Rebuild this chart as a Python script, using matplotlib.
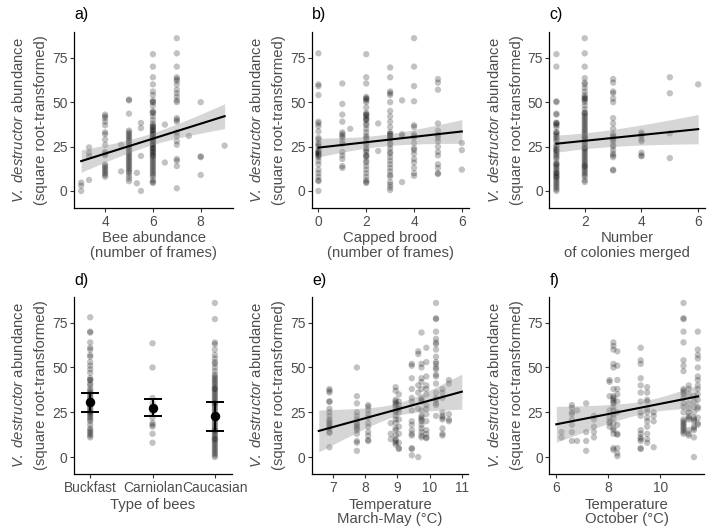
import numpy as np
import matplotlib
matplotlib.use('Agg')
import matplotlib.pyplot as plt

plt.rcParams['font.family'] = ['Liberation Sans', 'DejaVu Sans']
plt.rcParams['mathtext.fontset'] = 'custom'
plt.rcParams['mathtext.rm'] = 'Liberation Sans'
plt.rcParams['mathtext.it'] = 'Liberation Sans:italic'

# ---- data: x value -> list of y values ----
bee_frames = {
    3: [4.7, 3.0, 0],
    3.33: [24.5, 21.5, 19.5, 6.2],
    4: [43, 42, 41, 39, 37, 33, 32, 29, 26, 22, 21, 20, 15, 14, 13, 12, 11, 10, 9, 8],
    4.67: [26, 11],
    5: [51.5, 51, 43.5, 34, 33, 32, 31, 30, 29, 28, 27, 26, 25, 24, 23, 22, 21, 20,
        19, 18, 17, 16, 15, 14, 13, 12, 11, 10, 8.5, 7, 5.5],
    5.33: [10.2, 4.3],
    5.5: [38.3, 35.4, 19.7, 0],
    6: [77, 70, 64, 60, 56, 54, 51, 50, 48, 45, 44, 42, 40, 38, 37, 36, 35, 34, 33,
        32, 31, 30, 29, 28, 27, 26, 25, 24, 23, 22, 21, 20, 19, 18, 17, 16, 15, 14,
        13, 12, 11, 10, 9, 8, 6, 5, 4.5, 36, 34, 32, 30, 28, 26, 24, 22, 20, 50, 44],
    6.5: [37.4, 16],
    7: [86, 77.5, 70, 64, 63, 62, 60, 57, 55, 53, 51, 50, 41, 40, 39, 33, 31, 28, 26,
        18, 17, 14, 1.5],
    7.5: [31],
    8: [50, 19.5, 19, 9],
    9: [25.5],
}
capped_brood = {
    0: [77.5, 60, 59, 54, 39, 38, 36.5, 33.5, 30, 29, 27, 26, 25, 23, 22, 21, 20, 19,
        17, 15, 12, 10, 8, 6, 5.5, 0, 22, 21, 20],
    1: [60.5, 49, 43, 39, 33, 32, 31, 30, 28, 26.5, 22, 20, 18, 14, 13],
    1.33: [35],
    2: [77, 64, 60.5, 53, 52, 51, 50, 47, 44, 43, 42, 41, 40, 38, 37, 35, 33, 31, 30,
        29, 27, 26, 24, 23, 22, 20, 19, 17, 16, 14, 12, 10, 8, 6, 5, 4.5, 52, 43, 40, 20],
    2.5: [38, 22.5],
    3: [69.5, 64, 56, 55, 54, 50, 45, 42, 39, 36, 33, 32, 31, 30, 29, 27, 26, 24, 22,
        21, 19, 17, 15, 13, 11, 9, 8, 5, 3.5, 2, 0.5, 32, 30],
    3.5: [51, 32, 31, 5],
    4: [86, 70, 59, 50.5, 37, 36, 32, 31, 30, 27, 24, 23, 21, 18, 16, 13, 10, 8.5],
    5: [63, 61, 57, 38, 34, 31.5, 30, 28, 25, 22, 20, 15, 13, 10, 9.5],
    6: [27, 23, 12],
}
colonies = {
    1: [77, 70, 50.5, 50, 43.5, 43, 38.5, 38, 37, 36, 33, 32, 31, 30, 29, 28, 26, 25,
        24, 23, 22, 21, 20, 19, 18, 16, 15, 14, 13, 12, 11, 10, 9, 8, 7, 6, 5, 4, 3,
        2, 1, 0, 38, 33, 23, 15, 10, 8],
    2: [86, 77.5, 70, 63.5, 61, 60, 58, 56, 54, 53, 52, 51, 50, 48, 46, 44, 43, 42,
        41, 40, 39, 38, 37, 36, 35, 34, 33, 32, 31, 30, 29, 28, 27, 26, 25, 24, 23,
        22, 21, 20, 19, 18, 17, 16, 15, 14, 13, 12, 11, 10, 9, 8, 6, 5, 52, 44, 30, 24, 14],
    3: [63, 61, 56, 55, 52, 50, 41, 38, 35, 32, 31, 30, 29, 28, 26, 25, 23, 21, 20,
        19, 12, 11.5],
    4: [33, 32, 31, 29, 28, 21.5, 20, 19.5],
    5: [64, 55, 32.5, 18.5],
    6: [60],
}
bee_types = ['Buckfast', 'Carniolan', 'Caucasian']
bee_type_values = {
    'Buckfast': [78, 70, 69.5, 64, 61, 60, 57, 56, 53, 51, 49, 47, 44, 43, 41, 40, 38,
                 37, 36, 35, 34, 33, 32, 31, 30, 29, 28, 27, 26, 25, 24, 23, 22, 21,
                 20, 18, 16, 15, 14, 13, 12, 11, 43, 30, 25],
    'Carniolan': [63.5, 50, 33, 30, 27, 25, 22, 19, 18, 17, 13, 8],
    'Caucasian': [86, 77, 64, 63, 60, 57, 55, 53, 52, 50, 48, 46, 45, 44, 43, 42, 41,
                  40, 39, 38, 37, 36, 35, 34, 33, 32, 31, 30, 29, 28, 27, 26, 25, 24,
                  23, 22, 21, 20, 19, 18, 17, 16, 15, 14, 13, 12, 11, 10, 9, 8, 7, 6,
                  5, 4, 3, 2, 1, 0, 38, 30, 22, 15, 10],
}
bee_type_mean = [30.5, 27.3, 22.7]
bee_type_low = [25.1, 22.7, 14.4]
bee_type_high = [35.6, 32.2, 30.8]
temp_spring = {
    6.9: [38, 37, 36, 31, 31, 27, 25, 23, 21, 20, 19, 18, 17, 16, 14, 13.5, 5.5],
    7.75: [50, 34, 30, 25, 23, 21, 19, 18, 17, 16, 15, 13, 9, 8, 3.5],
    8.1: [29, 28, 26, 24, 22, 19, 17, 14, 12, 9.5, 9],
    8.8: [19, 13, 10],
    8.95: [39, 37, 32, 31, 30, 29, 28, 26, 25, 23, 21, 19, 16, 15, 12, 10, 9, 8, 7],
    9.05: [35, 31, 29, 27, 25, 21, 17, 13, 8, 5, 4.5],
    9.45: [52, 51, 44, 38, 33, 31, 26, 20, 18, 15, 13, 12, 5, 4.5, 1],
    9.65: [59, 57.5, 40, 36, 27, 0],
    9.75: [69.5, 52, 50, 44, 42, 38, 33, 32, 31, 26, 23, 22, 21, 20, 18, 16, 14, 12, 11],
    9.9: [61, 53, 45, 40, 38, 35, 29, 27, 24, 20, 15, 13, 11, 10.5],
    10.2: [86, 77.5, 77, 70, 66, 64, 63, 60, 56, 53, 52, 50, 49, 46, 45, 41, 36, 33,
           32, 30, 29, 23],
    10.4: [38, 36, 33, 25, 23, 22, 21, 16, 13, 12],
    10.6: [43, 41, 24, 21, 20],
}
temp_october = {
    6.2: [14, 11],
    6.6: [29, 27.5, 25, 24, 21, 18, 14, 9],
    6.8: [26, 9],
    7.15: [30, 14, 9, 3.5],
    7.45: [23, 21, 17, 14, 11],
    8.05: [43, 42, 34, 26, 22, 20, 19, 17],
    8.2: [64, 62, 60, 52, 50, 38, 34, 33, 32, 31, 30, 28, 26, 24, 22, 19, 16, 15, 13, 5, 4],
    8.35: [59, 51, 43, 38, 35, 31, 25, 18, 13, 12.5, 5, 2, 0.5],
    9.25: [61, 54, 52, 44, 40, 36, 31, 25, 23, 15, 13, 11, 10, 9, 5, 4.5],
    9.5: [39, 36, 32, 31, 27, 25, 22, 20, 17, 13, 10, 8],
    9.75: [25, 23, 20, 5.5],
    10.9: [86, 77.5, 77, 70, 64, 54, 51, 48, 38, 37, 36, 35, 33, 30, 28, 25, 21, 20,
           19, 18, 17, 16, 15, 14, 13],
    11.1: [40, 38, 35, 30, 27, 25, 23, 22, 21, 15, 13, 12],
    11.3: [34, 31, 28, 25, 22, 21, 20, 17, 16, 15, 11, 0],
    11.45: [70, 60, 57, 55, 50, 45, 43, 40, 38, 35, 32, 28, 27, 22, 19, 18],
}

# fitted lines: (x start, y start, x end, y end) and band (centre x, half width at centre, k)
fit_a = (3, 16.8, 9, 42.1);      band_a = (5.8, 3.3, 3.7)
fit_b = (0, 24.4, 6, 33.5);      band_b = (2.5, 3.2, 2.8)
fit_c = (1, 26.6, 6, 34.8);      band_c = (2.0, 4.5, 3.0)
fit_e = (6.57, 14.6, 11.0, 36.5); band_e = (9.0, 3.5, 21.0)
fit_f = (6.0, 18.3, 11.46, 33.9); band_f = (9.45, 3.5, 7.37)

ylab = '$\\it{V.\\ destructor}$ abundance\n(square root-transformed)'
text_grey = '#4D4D4D'
tick_size = 9.9
title_size = 10.7

fig = plt.figure(figsize=(7.08, 5.31), dpi=100)

def make_ax(rect, xlim, letter, label_y):
    ax = fig.add_axes(rect)
    ax.set_xlim(xlim)
    ax.set_ylim(-9.6, 89.5)
    ax.set_yticks([0, 25, 50, 75])
    for s in ['top', 'right']:
        ax.spines[s].set_visible(False)
    for s in ['left', 'bottom']:
        ax.spines[s].set_linewidth(0.9)
        ax.spines[s].set_color('black')
    ax.tick_params(labelsize=tick_size, labelcolor=text_grey, color='#333333', length=2.7, width=0.8, pad=2)
    ax.set_ylabel(ylab, fontsize=title_size, color=text_grey, labelpad=2.5, linespacing=1.75)
    fig.text(rect[0], 1 - label_y / 531, letter, fontsize=11.5, va='center', ha='left')
    return ax

def scatter_cols(ax, cols):
    xs, ys = [], []
    for x, vals in cols.items():
        xs += [x] * len(vals)
        ys += vals
    ax.scatter(xs, ys, s=21, color='black', alpha=0.24, edgecolors='none', zorder=2)

def draw_fit(ax, fit, band):
    x0, y0, x1, y1 = fit
    xc, h0, k = band
    xx = np.linspace(x0, x1, 80)
    yy = y0 + (y1 - y0) / (x1 - x0) * (xx - x0)
    hw = np.sqrt(h0 ** 2 + k * (xx - xc) ** 2)
    ax.fill_between(xx, yy - hw, yy + hw, color='#999999', alpha=0.4, linewidth=0, zorder=3)
    ax.plot(xx, yy, color='black', linewidth=1.5, zorder=4)

def xlabel(ax, text):
    ax.set_xlabel(text, fontsize=title_size, color=text_grey, labelpad=2, linespacing=1.05)

top_b = (531 - 208) / 531
top_h = 176 / 531
bot_b = (531 - 474.3) / 531
bot_h = 177.6 / 531

ax = make_ax([74 / 708, top_b, 159 / 708, top_h], (2.7, 9.35), 'a)', 15)
scatter_cols(ax, bee_frames)
draw_fit(ax, fit_a, band_a)
ax.set_xticks([4, 6, 8])
xlabel(ax, 'Bee abundance\n(number of frames)')

ax = make_ax([312 / 708, top_b, 157 / 708, top_h], (-0.27, 6.3), 'b)', 15)
scatter_cols(ax, capped_brood)
draw_fit(ax, fit_b, band_b)
ax.set_xticks([0, 2, 4, 6])
xlabel(ax, 'Capped brood\n(number of frames)')

ax = make_ax([549.3 / 708, top_b, 156 / 708, top_h], (0.75, 6.25), 'c)', 15)
scatter_cols(ax, colonies)
draw_fit(ax, fit_c, band_c)
ax.set_xticks([2, 4, 6])
xlabel(ax, 'Number\nof colonies merged')

ax = make_ax([74 / 708, bot_b, 157.7 / 708, bot_h], (0.74, 3.27), 'd)', 280)
for i, name in enumerate(bee_types):
    vals = bee_type_values[name]
    ax.scatter([i + 1] * len(vals), vals, s=21, color='black', alpha=0.24, edgecolors='none', zorder=2)
pos = np.arange(1, len(bee_types) + 1)
ax.errorbar(pos, bee_type_mean,
            yerr=[np.array(bee_type_mean) - np.array(bee_type_low),
                  np.array(bee_type_high) - np.array(bee_type_mean)],
            fmt='o', color='black', markersize=5.8, capsize=6.7, elinewidth=1.4, capthick=1.4, zorder=5)
ax.set_xticks(pos)
ax.set_xticklabels(bee_types)
xlabel(ax, 'Type of bees')

ax = make_ax([312 / 708, bot_b, 156.3 / 708, bot_h], (6.36, 11.2), 'e)', 280)
scatter_cols(ax, temp_spring)
draw_fit(ax, fit_e, band_e)
ax.set_xticks([7, 8, 9, 10, 11])
xlabel(ax, 'Temperature\nMarch-May (°C)')

ax = make_ax([549.3 / 708, bot_b, 155 / 708, bot_h], (5.73, 11.7), 'f)', 280)
scatter_cols(ax, temp_october)
draw_fit(ax, fit_f, band_f)
ax.set_xticks([6, 8, 10])
xlabel(ax, 'Temperature\nOctober (°C)')

fig.savefig('out.png', dpi=100, facecolor='white')
